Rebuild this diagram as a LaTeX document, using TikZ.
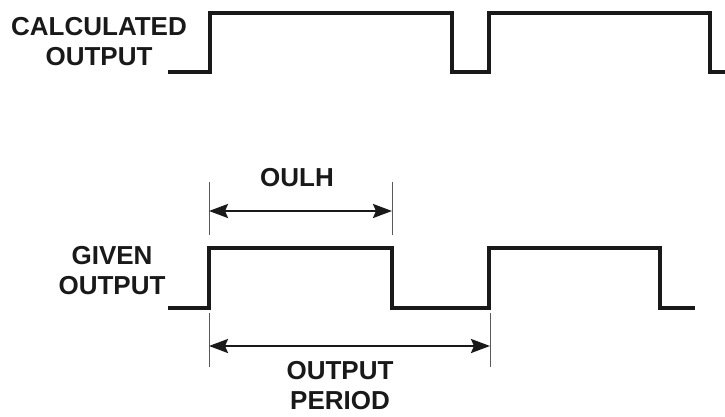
\documentclass[tikz,border=0pt]{standalone}
\usepackage{fontspec}
\setmainfont{Liberation Sans}
\usetikzlibrary{arrows.meta}

\begin{document}
\begin{tikzpicture}[x=1pt,y=-1pt,
  wave/.style={line width=3.2pt,line join=miter,black!90},
  tick/.style={line width=0.8pt,black!65},
  span/.style={line width=2.4pt,black!90,
    {Stealth[length=19pt,width=14pt,inset=3pt]}-{Stealth[length=19pt,width=14pt,inset=3pt]}},
  lbl/.style={font=\fontsize{26}{30}\selectfont\bfseries,align=center,inner sep=0pt,text=black!90}]
\useasboundingbox (0,0) rectangle (725,416);
% calculated output
\draw[wave] (168,72) -- (210,72) -- (210,13) -- (452,13) -- (452,72) -- (489,72)
  -- (489,13) -- (710,13) -- (710,72) -- (727,72);
\node[lbl] (calc) at (99,42) {CALCULATED\\OUTPUT};
% given output
\draw[wave] (168,308) -- (209,308) -- (209,248) -- (392,248) -- (392,308) -- (489,308)
  -- (489,248) -- (660,248) -- (660,308) -- (695,308);
\node[lbl] (given) at (112,271) {GIVEN\\OUTPUT};
% oulh
\draw[tick] (209,182) -- (209,235);
\draw[tick] (392,182) -- (392,235);
\coordinate (oulhl) at (209,211);
\coordinate (oulhr) at (392,211);
\draw[span] (oulhl) -- (oulhr);
\node[lbl] (oulh) at (297,178) {OULH};
% period
\draw[tick] (209,313) -- (209,367);
\draw[tick] (490,313) -- (490,367);
\coordinate (perl) at (209,346);
\coordinate (perr) at (490,346);
\draw[span] (perl) -- (perr);
\node[lbl] (period) at (340,386) {OUTPUT\\PERIOD};
\end{tikzpicture}
\end{document}
